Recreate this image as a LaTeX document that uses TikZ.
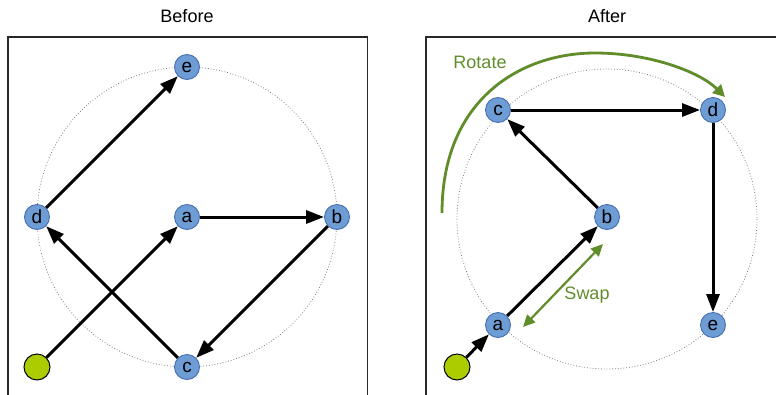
\documentclass[tikz,border=0pt]{standalone}
\usepackage{fontspec}
\setmainfont{Liberation Sans}
\usetikzlibrary{arrows.meta}
\definecolor{nodefill}{RGB}{110,156,212}
\definecolor{nodeedge}{RGB}{68,112,178}
\definecolor{startfill}{RGB}{172,204,0}
\definecolor{hint}{RGB}{96,140,42}
\definecolor{framecol}{RGB}{40,40,40}
\tikzset{
  x=1pt, y=-1pt,
  every node/.style={font=\fontsize{18}{20}\selectfont},
  vert/.style={circle, minimum size=25pt, inner sep=0pt, fill=nodefill, draw=nodeedge, line width=0.9pt, font=\fontsize{19}{20}\selectfont},
  start/.style={circle, minimum size=26pt, inner sep=0pt, fill=startfill, draw=black, line width=1pt},
  edge/.style={line width=3pt, -{Triangle[length=18pt,width=13pt]}},
  frame/.style={draw=framecol, line width=1.3pt},
  guide/.style={draw=gray, dotted, line width=0.8pt},
  rot/.style={draw=hint, line width=2.8pt, -{Triangle[length=12pt,width=12pt]}},
  swp/.style={draw=hint, line width=2.2pt, {Triangle[length=12pt,width=11pt]}-{Triangle[length=12pt,width=11pt]}},
  hinttext/.style={text=hint},
}
\begin{document}
\begin{tikzpicture}
\useasboundingbox (0,0) rectangle (776,394);

% panel frames
\draw[frame] (8,400) -- (8,37) -- (367.5,37) -- (367.5,400);
\draw[frame] (426,400) -- (426,37) -- (780,37);

% titles
\node (tb) at (187,16) {Before};
\node (ta) at (607,16) {After};

% ---- before ----
\draw[guide] (187,217) circle[radius=150];
\node[vert] (e1) at (187,67) {e};
\node[vert] (d1) at (37,217) {d};
\node[vert] (a1) at (187,217) {a};
\node[vert] (b1) at (337,217) {b};
\node[vert] (c1) at (187,367) {c};
\node[start] (s1) at (37,367) {};

\draw[edge] (d1) -- (e1);
\draw[edge] (a1) -- (b1);
\draw[edge] (b1) -- (c1);
\draw[edge] (c1) -- (d1);
\draw[edge] (s1) -- (a1);

% ---- after ----
\draw[guide] (607,219) circle[radius=150];
\node[vert] (c2) at (498,110) {c};
\node[vert] (d2) at (713,110) {d};
\node[vert] (b2) at (607,217) {b};
\node[vert] (a2) at (498,325) {a};
\node[vert] (e2) at (713,325) {e};
\node[start] (s2) at (457,367) {};

\draw[edge] (c2) -- (d2);
\draw[edge] (b2) -- (c2);
\draw[edge] (d2) -- (e2);
\draw[edge] (a2) -- (b2);
\draw[edge] (s2) -- (a2);

% rotation hint, sweeping over the top of the ring
\coordinate (rs) at (442,213);
\coordinate (rtop) at (595,53);
\coordinate (re) at (725,97);
\draw[rot] (rs) .. controls (442,100) and (520,53) .. (rtop)
                .. controls (650,53) and (700,72) .. (re);
\node[hinttext] (rl) at (480,62) {Rotate};

% swap hint
\coordinate (sw1) at (523,327);
\coordinate (sw2) at (603,244);
\draw[swp] (sw1) -- (sw2);
\node[hinttext] (sl) at (587,295) {Swap};
\end{tikzpicture}
\end{document}
